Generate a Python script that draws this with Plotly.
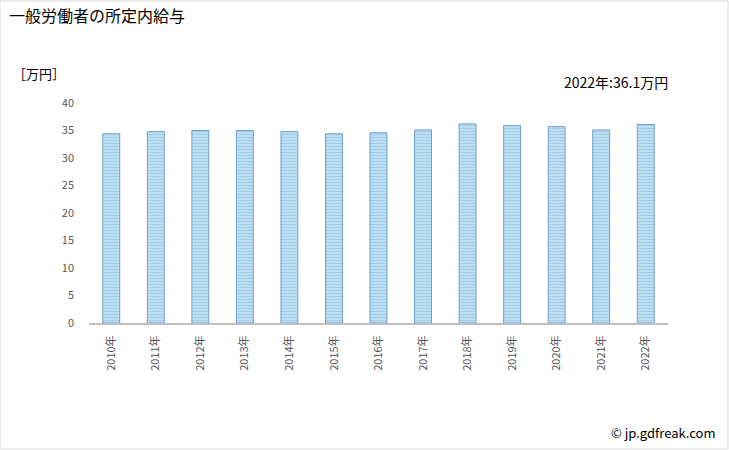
import plotly.graph_objects as go

years = ["2010年", "2011年", "2012年", "2013年", "2014年", "2015年", "2016年",
         "2017年", "2018年", "2019年", "2020年", "2021年", "2022年"]
values = [34.4, 34.8, 35.0, 35.0, 34.8, 34.4, 34.6, 35.1, 36.2, 35.9, 35.7, 35.1, 36.1]
y_ticks = [0, 5, 10, 15, 20, 25, 30, 35, 40]

FONT = "Noto Sans CJK JP, Liberation Sans, sans-serif"

fig = go.Figure()
fig.add_trace(go.Bar(
    x=years, y=values,
    marker=dict(
        color="#b4d8ee",
        line=dict(color="#6e9fd0", width=1),
        pattern=dict(shape="-", fgcolor="#82b6df", bgcolor="#c4e4f4",
                     size=3, solidity=0.5),
    ),
    hoverinfo="skip",
))

fig.update_layout(
    width=729, height=450,
    margin=dict(l=89, r=61, t=103, b=127),
    paper_bgcolor="white", plot_bgcolor="white",
    bargap=0.62,
    showlegend=False,
    font=dict(family=FONT, color="#595959"),
    xaxis=dict(
        type="category", tickangle=-90, showgrid=False,
        showline=True, linecolor="#bfbfbf", linewidth=2,
        tickfont=dict(size=11, color="#595959"), ticks="",
        ticklabelstandoff=6,
    ),
    yaxis=dict(
        range=[0, 40], tickvals=y_ticks, showgrid=False, zeroline=False,
        showline=False, tickfont=dict(size=11, color="#595959"), ticks="",
        ticklabelstandoff=14,
    ),
    shapes=[dict(type="rect", xref="paper", yref="paper",
                 x0=-89/579, x1=1+60/579, y0=-126/220, y1=1+102/220,
                 line=dict(color="#d9d9d9", width=1))],
    annotations=[
        dict(text="一般労働者の所定内給与", xref="paper", yref="paper",
             x=-82/579, y=1+(103-15)/220, xanchor="left", yanchor="middle",
             showarrow=False, font=dict(size=16, color="#000000", family=FONT)),
        dict(text="［万円］", xref="paper", yref="paper",
             x=-78/579, y=1+(103-73)/220, xanchor="left", yanchor="middle",
             showarrow=False, font=dict(size=13, color="#000000", family=FONT)),
        dict(text="2022年:36.1万円", xref="paper", yref="paper",
             x=1+2/579, y=1+(103-82)/220, xanchor="right", yanchor="middle",
             showarrow=False, font=dict(size=14, color="#000000", family=FONT)),
        dict(text="© jp.gdfreak.com", xref="paper", yref="paper",
             x=1+50/579, y=-(432-323)/220, xanchor="right", yanchor="middle",
             showarrow=False, font=dict(size=13, color="#000000", family=FONT)),
    ],
)

fig.write_html("out.html")
